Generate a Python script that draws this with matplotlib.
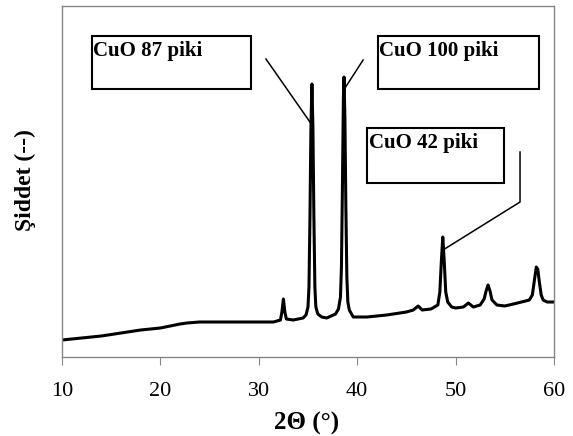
import numpy as np
import matplotlib.pyplot as plt
from matplotlib.patches import Rectangle

plt.rcParams['font.family'] = ['Liberation Serif', 'DejaVu Serif']

# XRD pattern (2-theta in degrees, intensity in arbitrary units)
two_theta = [10, 12, 14, 16, 18, 20, 22, 22.7, 24, 26, 28, 30, 31.5, 32.2, 32.35, 32.5,
             32.65, 32.8, 33.5, 34.5, 34.8, 35.0, 35.1, 35.2, 35.3, 35.4, 35.5, 35.6,
             35.7, 35.8, 36.0, 36.4, 36.9, 37.8, 38.1, 38.3, 38.4, 38.5, 38.6, 38.66,
             38.75, 38.85, 38.95, 39.05, 39.2, 39.6, 41, 43, 45, 45.7, 46.2, 46.6, 47.5,
             48.2, 48.4, 48.55, 48.7, 48.85, 49.0, 49.2, 49.6, 50, 50.8, 51.3, 51.8,
             52.5, 52.9, 53.1, 53.3, 53.5, 53.7, 54.2, 55, 56.3, 57.5, 57.8, 58.0, 58.2,
             58.35, 58.5, 58.7, 58.9, 59.3, 60]
intensity = [17, 19, 21, 24, 27, 29, 33, 34, 35, 35, 35, 35, 35, 37, 45, 58,
             45, 38, 37, 39, 42, 50, 70, 140, 230, 273, 230, 140,
             70, 50, 43, 40, 39, 43, 48, 60, 90, 170, 260, 280,
             240, 150, 80, 55, 47, 40, 40, 42, 45, 47, 51, 47, 48,
             52, 65, 95, 120, 95, 65, 55, 50, 49, 50, 54, 50,
             52, 58, 66, 72, 66, 57, 52, 51, 54, 57, 62, 76, 90,
             88, 76, 62, 57, 55, 55]

labels = ['CuO 87 piki', 'CuO 100 piki', 'CuO 42 piki']
# boxes: (x0, y0, width, height) in data units
boxes = [(13.05, 268, 16.15, 53), (42.1, 268, 16.4, 53), (41.0, 174, 13.9, 55)]
leaders = [([30.73, 35.2], [298, 235]),
           ([40.6, 38.76], [297, 269]),
           ([56.55, 56.55, 48.72], [205, 155, 107])]

fig = plt.figure(figsize=(5.73, 4.36), dpi=100)
ax = fig.add_axes([0.1082, 0.1812, 0.8586, 0.805])

ax.plot(two_theta, intensity, color='black', lw=2.2)

for (x0, y0, w, h), lab, (lx, ly) in zip(boxes, labels, leaders):
    ax.add_patch(Rectangle((x0, y0), w, h, fill=False, edgecolor='black', lw=1.5))
    ax.text(x0 + 0.15, y0 + h - 5, lab, fontsize=15, fontweight='bold', va='top', ha='left')
    ax.plot(lx, ly, color='black', lw=1.1)

ax.set_xlim(10, 60)
ax.set_ylim(0, 351)
ax.set_xticks([10, 20, 30, 40, 50, 60])
ax.set_yticks([])
ax.tick_params(axis='x', direction='out', length=6, color='#868686', labelsize=16, pad=12)
for s in ax.spines.values():
    s.set_color('#868686')
    s.set_linewidth(1)

ax.set_xlabel('2Θ (°)', fontsize=18, fontweight='bold', va='center')
ax.xaxis.set_label_coords(0.498, -0.188)
ax.set_ylabel('Şiddet (--)', fontsize=17, fontweight='bold', va='center')
ax.yaxis.set_label_coords(-0.075, 0.504)

fig.savefig('out.png', dpi=100)
